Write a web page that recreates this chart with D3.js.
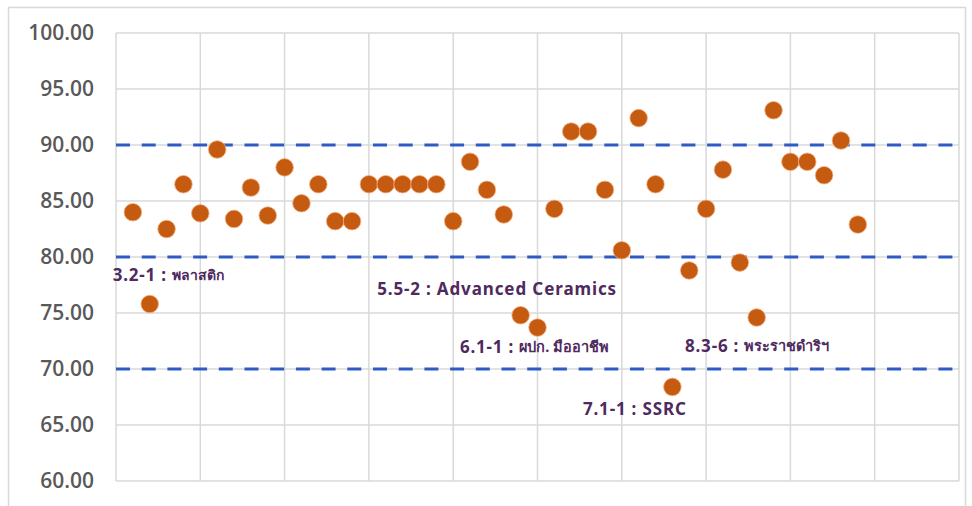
<!DOCTYPE html>
<html>
<head>
<meta charset="utf-8">
<script src="https://cdn.jsdelivr.net/npm/d3@7"></script>
<style>
  html, body { margin: 0; padding: 0; background: #fff; }
  svg { display: block; }
</style>
</head>
<body>
<svg id="chart" width="972" height="506"></svg>
<script>
// ---- data ----
const scores = [84.0, 75.8, 82.5, 86.5, 83.9, 89.6, 83.4, 86.2, 83.7, 88.0,
                84.8, 86.5, 83.2, 83.2, 86.5, 86.5, 86.5, 86.5, 86.5, 83.2,
                88.5, 86.0, 83.8, 74.8, 73.7, 84.3, 91.2, 91.2, 86.0, 80.6,
                92.4, 86.5, 68.4, 78.8, 84.3, 87.8, 79.5, 74.6, 93.1, 88.5,
                88.5, 87.3, 90.4, 82.9];
const yTicks = [60, 65, 70, 75, 80, 85, 90, 95, 100];
const xGrid = [0, 5, 10, 15, 20, 25, 30, 35, 40, 45, 50];
const refLines = [90, 80, 70];
const labelCodes = ["3.2-1", "5.5-2", "6.1-1", "7.1-1", "8.3-6"];
const labelNames = ["พลาสติก", "Advanced Ceramics", "ผปก. มืออาชีพ", "SSRC", "พระราชดำริฯ"];
const labelX = [-0.2, 15.5, 20.4, 27.7, 33.75];
const labelY = [78.3, 77.05, 71.9, 66.3, 72.0];

// ---- chart ----
const svg = d3.select("#chart");
const x = d3.scaleLinear().domain([0, 50]).range([116, 959]);
const y = d3.scaleLinear().domain([60, 100]).range([481, 33]);

// outer border
svg.append("rect").attr("x", 8.5).attr("y", 7.5).attr("width", 957).attr("height", 505)
  .attr("fill", "none").attr("stroke", "#d9d9d9").attr("stroke-width", 1.5);

// grid
const grid = svg.append("g");
grid.selectAll("line.h").data(yTicks).join("line")
  .attr("x1", x(0)).attr("x2", x(50))
  .attr("y1", d => y(d)).attr("y2", d => y(d))
  .attr("stroke", "#d9d9d9").attr("stroke-width", 1.5);
grid.selectAll("line.v").data(xGrid).join("line")
  .attr("x1", d => x(d)).attr("x2", d => x(d))
  .attr("y1", y(100)).attr("y2", y(60))
  .attr("stroke", "#d9d9d9").attr("stroke-width", 1.5);

// y axis labels
const yAxis = d3.axisLeft(y).tickValues(yTicks).tickFormat(d3.format(".2f")).tickSize(0).tickPadding(0);
const ga = svg.append("g").attr("transform", "translate(94,0)").call(yAxis);
ga.select(".domain").remove();
ga.selectAll("text")
  .attr("fill", "#595959")
  .style("font-family", "'Open Sans', sans-serif")
  .style("font-size", "21px")
  .style("font-weight", "600");

// reference dashed lines
svg.append("g").selectAll("line").data(refLines).join("line")
  .attr("x1", x(0)).attr("x2", x(50) - 4)
  .attr("y1", d => y(d)).attr("y2", d => y(d))
  .attr("stroke", "#2F5BC4").attr("stroke-width", 3)
  .attr("stroke-dasharray", "14,11.7");

// points
svg.append("g").selectAll("circle").data(scores).join("circle")
  .attr("cx", (d, i) => x(i + 1))
  .attr("cy", d => y(d))
  .attr("r", 8.8)
  .attr("fill", "#C55A11")
  .attr("stroke", "#F4B183").attr("stroke-width", 0.8);

// annotations
const ann = svg.append("g").selectAll("text").data(labelCodes).join("text")
  .attr("x", (d, i) => x(labelX[i]))
  .attr("y", (d, i) => y(labelY[i]))
  .attr("dominant-baseline", "middle")
  .attr("fill", "#4E2A5E")
  .style("font-family", "'Noto Sans', 'Lato', sans-serif")
  .style("font-weight", "700");
ann.append("tspan")
  .style("font-size", "17px")
  .style("letter-spacing", "0.8px")
  .text(d => d + " : ");
ann.append("tspan")
  .style("font-size", (d, i) => /[\u0E00-\u0E7F]/.test(labelNames[i]) ? (i === 0 ? "14px" : "14.5px") : "17px")
  .style("letter-spacing", (d, i) => /[\u0E00-\u0E7F]/.test(labelNames[i]) ? "0px" : "0.9px")
  .text((d, i) => labelNames[i]);
</script>
</body>
</html>
